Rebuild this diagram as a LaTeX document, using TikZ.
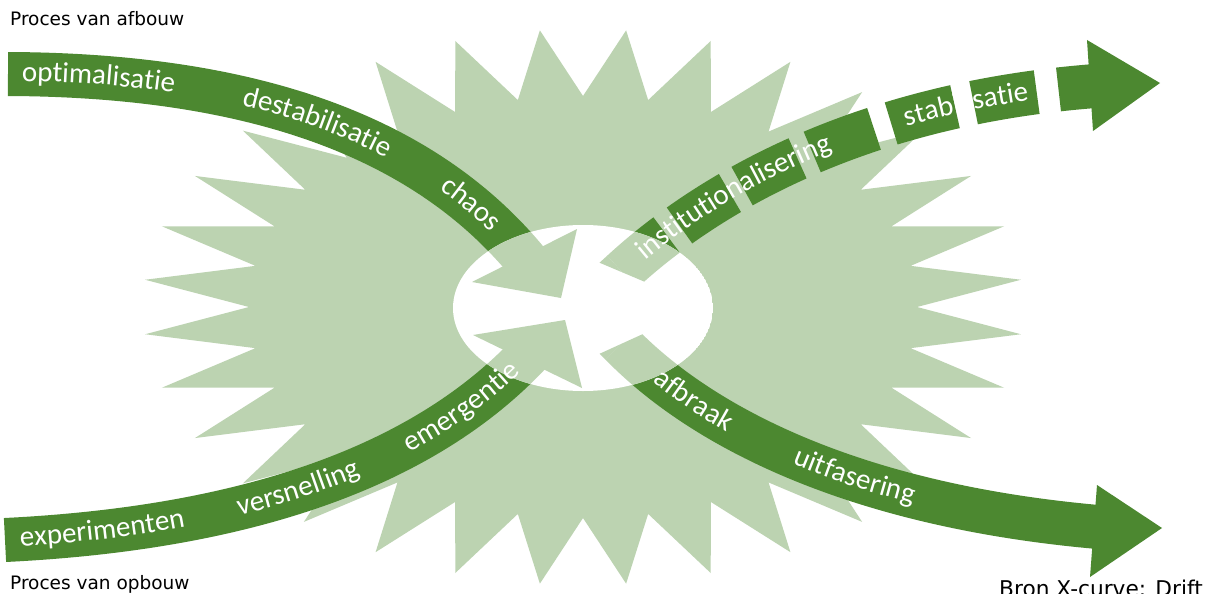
\documentclass[tikz,border=0pt]{standalone}
\usepackage{fontspec}
\usetikzlibrary{decorations.text}
\setmainfont{DejaVu Sans}
\newfontfamily\lblfont{Carlito}
\definecolor{band}{RGB}{76,136,48}
\definecolor{burst}{RGB}{188,211,177}
\newcommand\wordfmt{\lblfont\fontsize{29}{29}\selectfont\color{white}}

% band centre lines
\newcommand\pathA{(a1s) .. controls (250,75) and (425,135) .. (a1e)}
\newcommand\pathB{(a2s) .. controls (250,528) and (425,465) .. (a2e)}
\newcommand\pathC{(a3s) .. controls (700,200) and (850,105) .. (a3e)}
\newcommand\pathD{(a4s) .. controls (700,425) and (850,505) .. (a4e)}

% the four X-curve bands with their heads, in a given colour
\newcommand\drawxcurve[1]{%
  % afbouw: top left, into the centre
  \draw[bandline,#1] \pathA;
  \fill[#1] (a1l) -- (a1t) -- (a1r) -- cycle;
  % opbouw: bottom left, into the centre
  \draw[bandline,#1] \pathB;
  \fill[#1] (a2l) -- (a2t) -- (a2r) -- cycle;
  % new regime: dashed, out to the top right, slanted tail
  \begin{scope}
    \clip (437,194) -- (806,350) -- (1300,350) -- (1300,-100) -- (437,-100) -- cycle;
    \draw[bandline,#1] (a3x) -- (a3s);
    \draw[bandline,#1,dash pattern=on 58pt off 16pt on 60pt off 14pt on 62pt off 16pt on 66pt off 18pt on 66pt off 19pt on 64pt off 22pt on 300pt off 300pt]
      \pathC;
  \end{scope}
  \fill[#1] (a3l) -- (a3t) -- (a3r) -- cycle;
  % old regime: out to the bottom right, slanted tail
  \begin{scope}
    \clip (439,427) -- (803,261) -- (1300,261) -- (1300,700) -- (439,700) -- cycle;
    \draw[bandline,#1] (a4x) -- (a4s);
    \draw[bandline,#1] \pathD;
  \end{scope}
  \fill[#1] (a4l) -- (a4t) -- (a4r) -- cycle;
}

\begin{document}
\begin{tikzpicture}[x=1pt,y=-1pt,
  bandline/.style={line width=44pt, line cap=butt},
  wordpath/.style 2 args={decorate, decoration={text along path,
      text={|\wordfmt|#2}, text color=white,
      text align={left indent=#1}, raise=-7pt}},
  caption/.style={text=black, font=\fontsize{18.5}{18.5}\selectfont, inner sep=0pt},
]
\useasboundingbox (0,0) rectangle (1207,594);
\fill[white] (0,0) rectangle (1207,594);

% band end points and arrow heads
\coordinate (a1s) at (8,74);
\coordinate (a1e) at (530,265);
\coordinate (a1l) at (472,282);
\coordinate (a1t) at (561,298);
\coordinate (a1r) at (577,229);
\coordinate (a2s) at (5,540);
\coordinate (a2e) at (530,353);
\coordinate (a2l) at (473,335);
\coordinate (a2t) at (565,320);
\coordinate (a2r) at (582,388);
\coordinate (a3x) at (611,282);
\coordinate (a3s) at (622,272);
\coordinate (a3e) at (1095,86);
\coordinate (a3l) at (1087,40);
\coordinate (a3t) at (1160,83);
\coordinate (a3r) at (1093,131);
\coordinate (a4x) at (610,333);
\coordinate (a4s) at (621,344);
\coordinate (a4e) at (1098,527);
\coordinate (a4l) at (1097,485);
\coordinate (a4t) at (1162,528);
\coordinate (a4r) at (1090,577);

% 32-point starburst
\fill[burst] plot[samples at={0,...,63}, variable=\k]
  ({583+(mod(\k,2)<0.5 ? 440 : 334)*cos(5.625*(\k+1))},
   {307+(mod(\k,2)<0.5 ? 278 : 211)*sin(5.625*(\k+1))}) -- cycle;

% bands
\drawxcurve{band}

% pale centre: the bands show through lightly
\begin{scope}
  \clip (583,308) ellipse [x radius=130pt, y radius=83pt];
  \fill[white] (583,308) ellipse [x radius=130pt, y radius=83pt];
  \drawxcurve{burst}
\end{scope}

% phase labels, set along the bands
\path[wordpath={14pt}{optimalisatie}] \pathA;
\path[wordpath={237pt}{destabilisatie}] \pathA;
\path[wordpath={456pt}{chaos}] \pathA;
\path[wordpath={15pt}{experimenten}] \pathB;
\path[wordpath={235pt}{versnelling}] \pathB;
\path[wordpath={415pt}{emergentie}] \pathB;
\path[wordpath={26pt}{institutionalisering}] \pathC;
\path[wordpath={324pt}{stabilisatie}] \pathC;
\path[wordpath={48pt}{afbraak}] \pathD;
\path[wordpath={209pt}{uitfasering}] \pathD;

% captions
\node[caption, anchor=base west] (c1) at (10,26) {Proces van afbouw};
\node[caption, anchor=base west] (c2) at (10,589) {Proces van opbouw};
\node[caption, font=\fontsize{21.7}{21.7}\selectfont, anchor=base east] (c3) at (1203,596) {Bron X-curve: Drift};
\end{tikzpicture}
\end{document}
